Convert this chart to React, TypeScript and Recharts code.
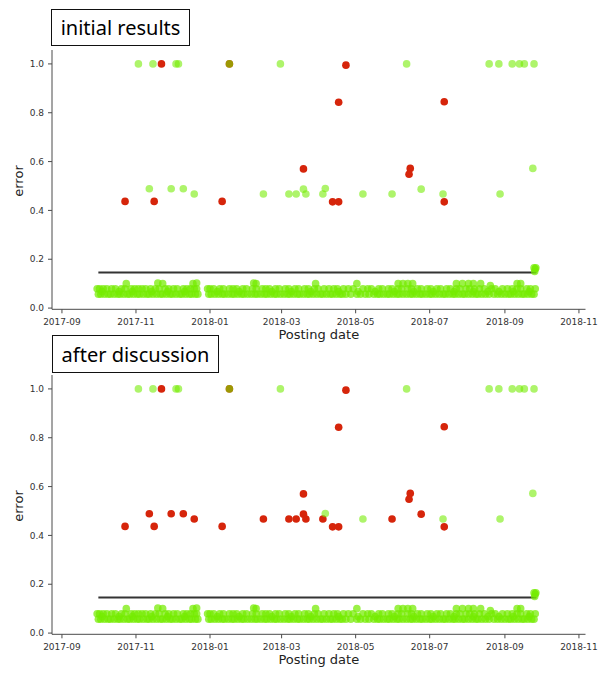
import { ScatterChart, Scatter, XAxis, YAxis, ReferenceLine } from 'recharts';

const START = Date.UTC(2017, 8, 1);
const dayOf = (date: string) => (Date.parse(date) - START) / 86400000;

const monthTicks = ['2017-09', '2017-11', '2018-01', '2018-03', '2018-05', '2018-07', '2018-09', '2018-11'];
const tickDays = monthTicks.map((m) => dayOf(`${m}-01`));
const errorTicks = [0, 0.2, 0.4, 0.6, 0.8, 1.0];

// [posting date, error]
const staysGreen: [string, number][] = [
  ['2017-11-03', 1.0], ['2017-11-15', 1.0], ['2017-12-04', 1.0], ['2017-12-06', 1.0],
  ['2018-01-17', 1.0], ['2018-02-28', 1.0], ['2018-06-12', 1.0], ['2018-08-19', 1.0],
  ['2018-08-27', 1.0], ['2018-09-07', 1.0], ['2018-09-13', 1.0], ['2018-09-17', 1.0],
  ['2018-09-25', 1.0],
  ['2018-04-06', 0.49], ['2018-05-07', 0.467], ['2018-07-12', 0.467], ['2018-08-28', 0.467],
  ['2018-09-24', 0.572],
];

// green in the first run, red after the discussion
const reviewed: [string, number][] = [
  ['2017-11-12', 0.489], ['2017-11-30', 0.489], ['2017-12-10', 0.489], ['2017-12-19', 0.467],
  ['2018-02-14', 0.467], ['2018-03-07', 0.467], ['2018-03-13', 0.467], ['2018-03-19', 0.487],
  ['2018-03-21', 0.467], ['2018-04-04', 0.467], ['2018-05-31', 0.467], ['2018-06-24', 0.487],
];

const alwaysRed: [string, number][] = [
  ['2017-11-22', 1.0], ['2018-01-17', 1.0], ['2018-04-23', 0.995], ['2018-04-17', 0.843],
  ['2018-07-13', 0.845], ['2018-03-19', 0.57], ['2018-06-15', 0.572], ['2018-06-14', 0.548],
  ['2017-10-23', 0.437], ['2017-11-16', 0.437], ['2018-01-11', 0.437], ['2018-04-12', 0.435],
  ['2018-04-17', 0.435], ['2018-07-13', 0.435],
];

// dense low-error band, days after 2017-09-01
const bandLowDays = [
  30, 32, 35, 38, 40, 43, 46, 48, 51, 54, 56, 59, 62, 64, 67, 70, 72, 75, 78, 81, 83, 86, 89, 91,
  94, 97, 99, 102, 105, 107, 110, 112,
  121, 123, 126, 129, 132, 134, 137, 140, 142, 145, 148, 150, 153, 156, 159, 161, 164, 167, 169,
  172, 175, 177, 180, 183, 186, 188, 191, 194, 196, 199, 202, 204, 207, 210, 213, 215, 218, 221,
  223, 226, 229, 231, 234, 238, 243, 246, 250, 253, 257, 260, 262, 265, 268, 270, 273, 276, 278,
  281, 284, 287, 289, 292, 295, 297, 300, 303, 305, 308, 311, 314, 316, 319, 322, 324, 327, 330,
  332, 335, 338, 341, 343, 346, 349, 352, 356, 359, 362, 365, 368, 370, 373, 376, 379, 381, 384,
  387, 389,
];
const bandHighDays = [
  29, 31, 34, 37, 41, 44, 49, 52, 57, 60, 63, 66, 69, 73, 77, 80, 85, 88, 92, 95, 100, 103, 106,
  109, 111,
  120, 122, 125, 130, 133, 138, 141, 144, 149, 152, 157, 160, 165, 168, 171, 176, 179, 184, 187,
  192, 195, 200, 203, 208, 211, 216, 220, 224, 227, 232, 236, 240, 248, 252, 255, 261, 264, 269,
  272, 277, 280, 285, 288, 293, 296, 301, 304, 309, 312, 317, 320, 325, 328, 333, 336, 340, 344,
  348, 354, 357, 363, 367, 371, 375, 378, 383, 386, 390,
];
const bandMidDays = [
  33, 47, 58, 74, 87, 101, 128, 146, 173, 189, 205, 228, 244, 258, 274, 290, 306, 323, 339, 351,
  360, 372, 385,
];
const bandExtras: [number, number][] = [
  [53, 0.1], [79, 0.103], [83, 0.1], [108, 0.1], [111, 0.103], [158, 0.103], [160, 0.1],
  [209, 0.1], [243, 0.1], [277, 0.1], [281, 0.1], [285, 0.1], [289, 0.1], [325, 0.1], [330, 0.1],
  [335, 0.1], [339, 0.1], [345, 0.1], [353, 0.092], [375, 0.1], [378, 0.1],
  [389, 0.165], [390, 0.16], [389.5, 0.15], [390.5, 0.165],
];

const thresholdSpan = ['2017-10-01', '2018-09-27'];
const threshold = 0.146;

const GREEN = '#74ec00';
const RED = '#d6250b';
const FRAME = '#4a4a4a';
const X_DOMAIN = [-8.2, 431.4];
const Y_DOMAIN = [-0.005, 1.057];

const toPoints = (rows: [string, number][]) => rows.map(([d, e]) => ({ x: dayOf(d), y: e }));
const band = [
  ...bandLowDays.map((x) => ({ x, y: 0.057 })),
  ...bandMidDays.map((x) => ({ x, y: 0.068 })),
  ...bandHighDays.map((x) => ({ x, y: 0.079 })),
  ...bandExtras.map(([x, y]) => ({ x, y })),
];

const dot = (color: string, opacity: number) => (p: any) => (
  <circle cx={p.cx} cy={p.cy} r={3.8} fill={color} fillOpacity={opacity} />
);

const tickStyle = { fill: '#333', fontSize: 9, fontFamily: 'DejaVu Sans' };
const titleStyle = { fill: '#222', fontSize: 13, fontFamily: 'DejaVu Sans' };

function Panel({ top, red, green }: { top: number; red: any[]; green: any[] }) {
  return (
    <div style={{ position: 'absolute', left: 0, top }}>
      <ScatterChart width={601} height={345} margin={{ top: 50, right: 15.5, bottom: 5.7, left: 12 }}>
        <XAxis
          dataKey="x"
          type="number"
          domain={X_DOMAIN}
          ticks={tickDays}
          interval={0}
          allowDataOverflow
          tickFormatter={(v) => monthTicks[tickDays.indexOf(v)]}
          height={30}
          stroke={FRAME}
          tickSize={4}
          tickMargin={5}
          tick={tickStyle}
          label={{
            content: () => (
              <text x={318.75} y={339} textAnchor="middle" style={titleStyle}>Posting date</text>
            ),
          }}
        />
        <XAxis xAxisId="top" orientation="top" type="number" domain={X_DOMAIN} height={0}
          tick={false} tickLine={false} stroke={FRAME} allowDataOverflow />
        <YAxis
          dataKey="y"
          type="number"
          domain={Y_DOMAIN}
          ticks={errorTicks}
          interval={0}
          allowDataOverflow
          tickFormatter={(v) => v.toFixed(1)}
          width={40}
          stroke={FRAME}
          tickSize={4}
          tickMargin={4}
          tick={tickStyle}
          label={{
            content: () => (
              <text x={22.5} y={181} textAnchor="middle" transform="rotate(-90 22.5 181)" style={titleStyle}>
                error
              </text>
            ),
          }}
        />
        <YAxis yAxisId="right" orientation="right" type="number" domain={Y_DOMAIN} width={0}
          tick={false} tickLine={false} stroke={FRAME} allowDataOverflow />
        <Scatter data={red} shape={dot(RED, 1)} isAnimationActive={false} />
        <Scatter data={green} shape={dot(GREEN, 0.58)} isAnimationActive={false} />
        <Scatter data={band} shape={dot(GREEN, 0.72)} isAnimationActive={false} />
        <ReferenceLine
          segment={[
            { x: dayOf(thresholdSpan[0]), y: threshold },
            { x: dayOf(thresholdSpan[1]), y: threshold },
          ]}
          stroke="#333"
          strokeWidth={2}
        />
      </ScatterChart>
    </div>
  );
}

function TitleBox({ text, left, top, width, height }: { text: string; left: number; top: number; width: number; height: number }) {
  return (
    <div
      style={{
        position: 'absolute', left, top, width, height, boxSizing: 'border-box',
        border: '1.5px solid #111', background: '#fff', display: 'flex', alignItems: 'center',
        justifyContent: 'center', fontFamily: 'Noto Sans', fontSize: 20, color: '#000',
      }}
    >
      {text}
    </div>
  );
}

export default function App() {
  return (
    <div style={{ position: 'absolute', left: 0, top: 0, width: 601, height: 673, background: '#fff' }}>
      <Panel top={0} red={toPoints(alwaysRed)} green={toPoints([...staysGreen, ...reviewed])} />
      <Panel top={325} red={toPoints([...alwaysRed, ...reviewed])} green={toPoints(staysGreen)} />
      <TitleBox text="initial results" left={51} top={9} width={139} height={37} />
      <TitleBox text="after discussion" left={52} top={335} width={167} height={38} />
    </div>
  );
}
